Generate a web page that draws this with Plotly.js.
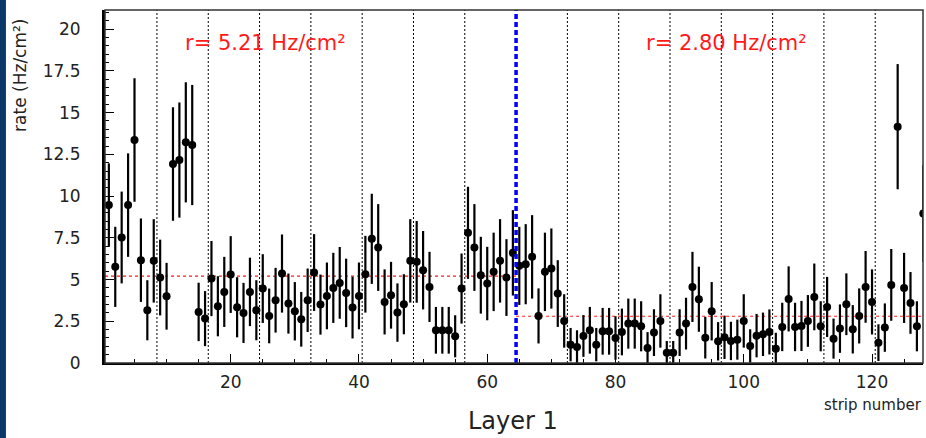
<!DOCTYPE html>
<html>
<head>
<meta charset="utf-8">
<script src="https://cdn.plot.ly/plotly-3.0.1.min.js"></script>
<style>
  html, body { margin: 0; padding: 0; background: #ffffff; }
  #chart { width: 926px; height: 438px; }
</style>
</head>
<body>
<div id="chart"></div>
<script>
// ---- data ----
const strips = [1,2,3,4,5,6,7,8,9,10,11,12,13,14,15,16,17,18,19,20,21,22,23,24,25,26,27,28,29,30,31,32,
  33,34,35,36,37,38,39,40,41,42,43,44,45,46,47,48,49,50,51,52,53,54,55,56,57,58,59,60,61,62,63,64,
  65,66,67,68,69,70,71,72,73,74,75,76,77,78,79,80,81,82,83,84,85,86,87,88,89,90,91,92,93,94,95,96,
  97,98,99,100,101,102,103,104,105,106,107,108,109,110,111,112,113,114,115,116,117,118,119,120,121,122,123,124,125,126,127,128];

const rate = [9.46,5.76,7.52,9.46,13.36,6.16,3.16,6.12,5.12,4.0,11.92,12.16,13.22,13.06,3.06,2.66,
  5.06,3.4,4.26,5.3,3.34,3.0,4.26,3.16,4.46,2.82,3.76,5.36,3.56,3.1,2.62,3.76,
  5.42,3.5,4.02,4.5,4.8,4.2,3.32,4.02,5.32,7.44,6.92,3.66,4.06,3.02,3.52,6.12,
  6.06,5.56,4.56,1.96,1.96,1.96,1.6,4.46,7.8,6.92,5.26,4.76,5.46,6.12,5.12,6.6,
  5.82,5.92,6.36,2.82,5.46,5.66,4.16,2.52,1.1,0.96,1.62,1.96,1.1,1.9,1.9,1.5,
  1.86,2.36,2.36,2.2,0.9,1.82,2.52,0.62,0.62,1.82,2.36,4.56,3.82,1.52,3.1,1.3,
  1.54,1.32,1.4,2.52,1.02,1.64,1.72,1.86,0.86,2.16,3.84,2.16,2.22,2.52,3.96,2.2,
  3.36,1.46,2.06,3.52,2.02,2.82,4.56,3.66,1.22,2.12,4.68,14.16,4.5,3.6,2.2,8.96];

const rateErr = [2.5,2.4,2.75,3.1,3.7,2.5,1.8,2.5,2.27,2.0,3.4,3.45,3.6,3.6,1.75,1.65,
  2.25,1.8,2.1,2.3,1.8,1.8,2.05,1.8,2.06,1.64,1.94,2.34,1.8,1.75,1.64,1.9,
  2.3,1.8,2.0,2.1,2.15,2.05,1.85,2.0,2.3,2.7,2.6,1.95,2.0,1.75,1.8,2.5,
  2.45,2.35,2.1,1.4,1.4,1.4,1.26,2.1,2.76,2.6,2.3,2.2,2.35,2.5,2.3,2.56,
  2.34,2.4,2.5,1.65,2.35,2.4,2.0,1.6,1.0,1.0,1.25,1.4,1.0,1.4,1.4,1.3,
  1.4,1.5,1.5,1.5,0.95,1.4,1.6,0.7,0.7,1.4,1.55,2.1,1.95,1.25,1.75,1.15,
  1.3,1.15,1.2,1.6,1.0,1.3,1.3,1.35,0.95,1.45,1.95,1.45,1.5,1.55,2.0,1.5,
  1.8,1.2,1.45,1.85,1.45,1.65,2.15,1.95,1.1,1.45,2.15,3.75,2.1,1.85,1.5,2.9];

// mean rate in each half of the layer
const halfMeans = [5.21, 2.80];
const halfStart = [0.4, 64.5];
const halfEnd = [64.5, 127.95];
const meanLabels = ["r= 5.21 Hz/cm²", "r= 2.80 Hz/cm²"];

// chip boundaries (every 8 strips) and the layer split
const chipBounds = [8.5,16.5,24.5,32.5,40.5,48.5,56.5,72.5,80.5,88.5,96.5,104.5,112.5,120.5];
const splitAt = 64.5;

const xTicks = [20,40,60,80,100,120];
const yTicks = [0,2.5,5,7.5,10,12.5,15,17.5,20];
const yTickText = ["0","2.5","5","7.5","10","12.5","15","17.5","20"];

// ---- build figure ----
const FONT = "DejaVu Sans";
const shapes = [];
chipBounds.forEach(b => shapes.push({
  type: 'line', xref: 'x', yref: 'paper', x0: b, x1: b, y0: 0, y1: 1,
  line: {color: '#000', width: 1, dash: '2px,2px'}, layer: 'below'
}));
halfMeans.forEach((m, i) => shapes.push({
  type: 'line', xref: 'x', yref: 'y', x0: halfStart[i], x1: halfEnd[i], y0: m, y1: m,
  line: {color: '#ff1a1a', width: 1.2, dash: '3px,3px'}, layer: 'below'
}));
shapes.push({
  type: 'line', xref: 'x', yref: 'paper', x0: splitAt, x1: splitAt, y0: 0, y1: 1,
  line: {color: '#0000ff', width: 3.5, dash: '5px,3px'}, layer: 'above'
});
// frame
shapes.push({type: 'rect', xref: 'paper', yref: 'paper', x0: 0, x1: 1, y0: 0, y1: 1,
  line: {color: '#333', width: 1.5}, layer: 'above'});
// slide background strip at the far left
shapes.push({type: 'rect', xref: 'paper', yref: 'paper', x0: -0.14, x1: -0.1211, y0: -0.25, y1: 1.05,
  line: {width: 0}, fillcolor: '#0b3868', layer: 'above'});

const annotations = [
  {text: meanLabels[0], xref: 'paper', yref: 'paper', x: 0.0954, y: 0.906, xanchor: 'left', yanchor: 'middle',
   showarrow: false, font: {family: FONT, size: 21, color: '#ff1a1a'}},
  {text: meanLabels[1], xref: 'paper', yref: 'paper', x: 0.659, y: 0.906, xanchor: 'left', yanchor: 'middle',
   showarrow: false, font: {family: FONT, size: 21, color: '#ff1a1a'}},
  {text: 'rate (Hz/cm²)', xref: 'paper', yref: 'paper', x: -0.104, y: 0.816, xanchor: 'center', yanchor: 'middle',
   textangle: -90, showarrow: false, font: {family: FONT, size: 17, color: '#222'}},
  {text: 'Layer 1', xref: 'paper', yref: 'paper', x: 0.4988, y: -0.165, xanchor: 'center', yanchor: 'middle',
   showarrow: false, font: {family: FONT, size: 24, color: '#222'}},
  {text: 'strip number', xref: 'paper', yref: 'paper', x: 0.9996, y: -0.118, xanchor: 'right', yanchor: 'middle',
   showarrow: false, borderpad: 0, font: {family: FONT, size: 15, color: '#222'}}
];

const trace = {
  x: strips, y: rate, type: 'scatter', mode: 'markers',
  marker: {color: '#000', size: 8, symbol: 'circle'},
  error_y: {type: 'data', array: rateErr, visible: true, color: '#000', thickness: 2.2, width: 0},
  cliponaxis: true, hoverinfo: 'x+y'
};

const layout = {
  width: 926, height: 438,
  margin: {l: 105, r: 3, t: 10, b: 75, pad: 0},
  paper_bgcolor: '#ffffff', plot_bgcolor: '#ffffff',
  showlegend: false,
  font: {family: FONT, color: '#222'},
  xaxis: {
    range: [0.4, 127.95], tickvals: xTicks, ticks: 'inside', ticklen: 9, tickwidth: 1, tickcolor: '#000',
    showline: true, linecolor: '#000', linewidth: 2, mirror: false, showgrid: false, zeroline: false,
    tickfont: {family: FONT, size: 17, color: '#222'}, ticklabelstandoff: 3,
    minor: {dtick: 5, tick0: 0, ticks: 'inside', ticklen: 4, tickwidth: 1, tickcolor: '#000', showgrid: false}
  },
  yaxis: {
    range: [0, 21.15], tickvals: yTicks, ticktext: yTickText, ticks: 'inside', ticklen: 9, tickwidth: 1, tickcolor: '#000',
    showline: true, linecolor: '#000', linewidth: 3, mirror: false, showgrid: false, zeroline: false,
    tickfont: {family: FONT, size: 17, color: '#222'}, ticklabelstandoff: 18,
    minor: {dtick: 0.5, tick0: 0, ticks: 'inside', ticklen: 4, tickwidth: 1, tickcolor: '#000', showgrid: false}
  },
  shapes: shapes,
  annotations: annotations
};

Plotly.newPlot('chart', [trace], layout, {displayModeBar: false, staticPlot: true});
</script>
</body>
</html>
